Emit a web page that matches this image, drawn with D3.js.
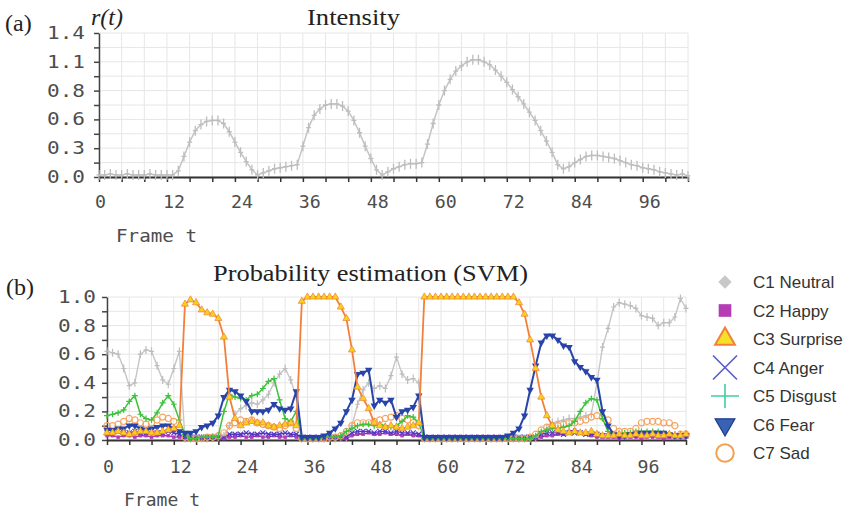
<!DOCTYPE html>
<html>
<head>
<meta charset="utf-8">
<script src="https://cdn.jsdelivr.net/npm/d3@7"></script>
<style>
  body { margin: 0; background: #fff; }
  .mono { font-family: "DejaVu Sans Mono", monospace; font-size: 17px; fill: #4d4d4d; }
  .serif { font-family: "Liberation Serif", serif; fill: #222; }
</style>
</head>
<body>
<script>
// ---- data ----
var frameCount = 105;

// (a) intensity r(t)
var intensity = [
  0.02,0.02,0.03,0.02,0.02,0.03,0.02,0.02,0.02,0.03,0.02,0.02,0.02,0.02,
  0.06,0.2,0.34,0.45,0.51,0.54,0.55,0.55,0.52,0.44,0.34,0.24,0.15,0.07,0.02,
  0.04,0.06,0.08,0.09,0.1,0.11,0.12,
  0.3,0.48,0.6,0.66,0.7,0.71,0.71,0.69,0.64,0.55,0.43,0.3,0.18,0.07,0.02,
  0.05,0.08,0.1,0.12,0.13,0.13,0.14,
  0.32,0.52,0.7,0.84,0.95,1.03,1.08,1.12,1.14,1.14,1.12,1.09,1.04,0.98,0.92,0.85,
  0.78,0.71,0.63,0.55,0.45,0.35,0.24,0.12,0.08,0.1,0.14,0.17,0.2,0.21,0.21,0.2,
  0.19,0.18,0.16,0.14,0.12,0.11,0.09,0.08,0.07,0.05,0.04,0.03,0.02,0.03,0.01
];

// (b) SVM probability per class
var neutral = [
  0.62,0.61,0.6,0.5,0.38,0.4,0.6,0.63,0.62,0.52,0.42,0.39,0.5,0.62,
  0.01,0.01,0.01,0.01,0.01,0.02,0.02,0.03,
  0.1,0.18,0.22,0.24,0.26,0.25,0.28,0.32,0.4,0.46,0.5,0.42,0.3,
  0.01,0.01,0.01,0.01,0.01,0.01,0.01,0.02,0.02,
  0.1,0.25,0.35,0.4,0.36,0.38,0.36,0.45,0.58,0.46,0.42,0.43,0.4,
  0.01,0.01,0.01,0.01,0.01,0.01,0.01,0.01,0.01,0.01,0.01,0.01,0.01,0.01,0.01,0.01,0.01,0.01,0.01,0.01,0.01,
  0.03,0.08,0.12,0.13,0.14,0.15,0.15,0.16,0.17,0.18,0.4,0.65,0.78,0.93,0.96,0.95,
  0.94,0.92,0.87,0.86,0.85,0.8,0.82,0.82,0.86,0.99,0.92
];
var happy = [
  0.03,0.03,0.02,0.03,0.03,0.02,0.03,0.03,0.02,0.03,0.03,0.03,0.02,0.02,
  0.01,0.01,0.01,0.01,0.01,0.01,0.01,0.01,
  0.02,0.02,0.03,0.02,0.02,0.03,0.02,0.02,0.03,0.02,0.02,0.03,0.02,
  0.01,0.01,0.01,0.01,0.01,0.01,0.01,0.01,0.01,
  0.03,0.04,0.04,0.05,0.04,0.04,0.05,0.04,0.04,0.03,0.04,0.03,0.03,
  0.01,0.01,0.01,0.01,0.01,0.01,0.01,0.01,0.01,0.01,0.01,0.01,0.01,0.01,0.01,0.01,0.01,0.01,0.01,0.01,0.01,
  0.02,0.03,0.03,0.04,0.04,0.06,0.07,0.05,0.04,0.03,0.02,0.02,0.02,0.02,0.01,0.02,
  0.02,0.02,0.01,0.02,0.02,0.02,0.01,0.02,0.02,0.02,0.02
];
var surprise = [
  0.05,0.05,0.06,0.05,0.04,0.05,0.06,0.06,0.05,0.05,0.06,0.07,0.08,0.1,
  0.95,0.98,0.96,0.91,0.89,0.88,0.85,0.72,0.3,0.15,
  0.1,0.12,0.13,0.12,0.12,0.1,0.09,0.1,0.11,0.12,0.1,
  0.97,1.0,1.0,1.0,1.0,1.0,1.0,
  0.93,0.85,0.63,0.37,0.29,0.22,0.12,
  0.1,0.09,0.1,0.09,0.08,0.09,0.1,0.12,
  1.0,1.0,1.0,1.0,1.0,1.0,1.0,1.0,1.0,1.0,1.0,1.0,1.0,1.0,1.0,1.0,1.0,
  0.96,0.88,0.7,0.5,0.3,0.17,0.1,0.07,
  0.06,0.05,0.06,0.05,0.05,0.06,0.04,0.03,0.03,0.03,0.04,0.03,0.03,0.04,0.03,0.03,
  0.04,0.03,0.03,0.04,0.03,0.03,0.04
];
var anger = [
  0.05,0.05,0.06,0.05,0.05,0.06,0.05,0.05,0.06,0.05,0.05,0.06,0.05,0.04,
  0.02,0.02,0.02,0.02,0.02,0.02,0.02,0.02,
  0.04,0.04,0.04,0.05,0.04,0.04,0.05,0.04,0.04,0.04,0.05,0.04,0.04,
  0.02,0.02,0.02,0.02,0.02,0.02,0.02,0.02,0.02,
  0.05,0.06,0.06,0.06,0.05,0.06,0.06,0.05,0.06,0.05,0.05,0.05,0.04,
  0.02,0.02,0.02,0.02,0.02,0.02,0.02,0.02,0.02,0.02,0.02,0.02,0.02,0.02,0.02,0.02,0.02,0.02,0.02,0.02,0.02,
  0.04,0.05,0.05,0.05,0.04,0.05,0.05,0.05,0.04,0.04,0.04,0.03,0.03,0.03,0.03,0.03,
  0.03,0.04,0.04,0.04,0.04,0.03,0.03,0.03,0.03,0.03,0.03
];
var disgust = [
  0.17,0.18,0.19,0.21,0.27,0.31,0.18,0.15,0.14,0.19,0.26,0.31,0.25,0.14,0.04,
  0.01,0.01,0.02,0.02,0.02,0.03,
  0.2,0.32,0.3,0.29,0.28,0.31,0.32,0.36,0.41,0.43,0.28,0.15,0.13,0.2,
  0.01,0.01,0.01,0.01,0.02,0.02,0.02,
  0.03,0.06,0.08,0.1,0.11,0.11,0.1,0.11,0.1,0.09,0.1,0.13,0.17,0.16,0.12,
  0.01,0.01,0.01,0.01,0.01,0.01,0.01,0.01,0.01,0.01,0.01,0.01,0.01,0.01,0.01,0.01,0.01,0.01,0.01,0.01,
  0.03,0.06,0.07,0.08,0.08,0.09,0.1,0.13,0.2,0.26,0.29,0.28,0.15,0.06,
  0.04,0.04,0.05,0.05,0.06,0.06,0.06,0.06,0.06,0.05,0.04,0.04,0.04,0.04
];
var fear = [
  0.07,0.07,0.08,0.08,0.1,0.1,0.08,0.07,0.08,0.09,0.1,0.1,0.08,
  0.06,0.05,0.05,0.06,0.09,0.1,0.12,0.17,0.3,0.35,0.34,0.31,0.27,0.2,0.2,0.2,0.21,
  0.25,0.22,0.21,0.22,0.34,
  0.02,0.02,0.02,0.02,0.03,0.05,0.08,
  0.12,0.2,0.28,0.46,0.47,0.49,0.24,0.28,0.26,0.28,0.16,0.2,0.21,0.23,0.31,
  0.02,0.02,0.02,0.02,0.02,0.02,0.02,0.02,0.02,0.02,0.02,0.02,0.02,0.02,0.02,
  0.03,0.05,0.08,0.17,0.35,0.52,0.68,0.73,0.73,0.7,0.66,0.65,0.55,0.51,0.48,0.44,
  0.42,0.2,0.1,0.04,
  0.03,0.03,0.04,0.04,0.05,0.05,0.05,0.05,0.05,0.04,0.03,0.03,0.03
];
var sad = [
  0.1,0.1,0.11,0.13,0.15,0.14,0.12,0.11,0.12,0.14,0.16,0.15,0.13,0.08,
  0.02,0.01,0.01,0.01,0.02,0.02,0.03,0.05,
  0.1,0.12,0.14,0.13,0.14,0.12,0.11,0.1,0.09,0.08,0.1,0.12,0.08,
  0.01,0.01,0.01,0.01,0.01,0.02,0.02,0.03,0.06,
  0.1,0.12,0.12,0.12,0.13,0.14,0.15,0.16,0.17,0.15,0.14,0.12,0.1,
  0.01,0.01,0.01,0.01,0.01,0.01,0.01,0.01,0.01,0.01,0.01,0.01,0.01,0.01,0.01,0.01,0.01,0.01,0.01,
  0.02,0.04,0.07,0.09,0.1,0.1,0.11,0.12,0.12,0.13,0.14,0.16,0.17,0.16,0.14,
  0.08,0.06,0.06,0.06,0.08,0.12,0.13,0.13,0.13,0.12,0.12,0.1,0.04,0.04
];

var classNames = ["C1 Neutral", "C2 Happy", "C3 Surprise", "C4 Anger", "C5 Disgust", "C6 Fear", "C7 Sad"];

// tick labels
var frameLabels = [0, 12, 24, 36, 48, 60, 72, 84, 96];
var topYLabels = ["0.0", "0.3", "0.6", "0.8", "1.1", "1.4"];
var botYLabels = ["0.0", "0.2", "0.4", "0.6", "0.8", "1.0"];

// ---- drawing ----
var width = 850, height = 510;

var svg = d3.select("body").append("svg")
    .attr("width", width)
    .attr("height", height);

// marker shapes
var plusTall = function(h, w) { return "M0," + (-h) + "V" + h + "M" + (-w) + ",0H" + w; };

function drawPanel(opt) {
  var x = d3.scaleLinear().domain([0, 104]).range([opt.x0, opt.x1]);
  var y = d3.scaleLinear().domain([0, opt.ymax]).range([opt.yb, opt.yt]);
  var g = svg.append("g");

  // grid
  g.append("g").selectAll("line")
      .data(d3.range(0, 105, 4))
      .enter().append("line")
      .attr("x1", function(d) { return x(d); })
      .attr("x2", function(d) { return x(d); })
      .attr("y1", opt.yt).attr("y2", opt.yb)
      .attr("stroke", "#e6e6e6");
  g.append("g").selectAll("line")
      .data(opt.gridY)
      .enter().append("line")
      .attr("x1", opt.x0).attr("x2", opt.x1)
      .attr("y1", function(d) { return y(d); })
      .attr("y2", function(d) { return y(d); })
      .attr("stroke", "#e6e6e6");

  // left axis
  var ya = g.append("g")
      .attr("transform", "translate(" + opt.x0 + ",0)")
      .call(d3.axisLeft(y).tickValues(opt.gridY).tickSize(5).tickSizeOuter(0)
        .tickPadding(opt.ypad)
        .tickFormat(function(d, i) { return i % 2 === 0 ? opt.yLabels[i / 2] : ""; }));
  ya.select(".domain").attr("stroke", "#444").attr("stroke-width", 1.5);
  ya.selectAll(".tick line").attr("stroke", "#444").attr("stroke-width", 1.5);
  ya.selectAll("text")
      .attr("class", "mono")
      .attr("font-family", null).attr("font-size", null).attr("fill", null)
      .attr("textLength", function() { return this.textContent.length ? 38 : null; })
      .attr("lengthAdjust", "spacingAndGlyphs");

  // bottom axis
  var xa = g.append("g")
      .attr("transform", "translate(0," + opt.yb + ")")
      .call(d3.axisBottom(x).tickValues(d3.range(0, 105, 4)).tickSize(5).tickSizeOuter(0).tickFormat(""));
  xa.select(".domain").attr("stroke", "#333").attr("stroke-width", 2);
  xa.selectAll(".tick line").attr("stroke", "#333").attr("stroke-width", 1.5);

  g.append("g").selectAll("text")
      .data(frameLabels)
      .enter().append("text")
      .attr("class", "mono")
      .attr("x", function(d) { return x(d) - 4; })
      .attr("y", opt.yb + opt.labelDy)
      .attr("textLength", function(d) { return String(d).length * 11; })
      .attr("lengthAdjust", "spacingAndGlyphs")
      .text(function(d) { return d; });

  g.append("text")
      .attr("class", "mono")
      .attr("x", opt.frameX).attr("y", opt.frameY)
      .attr("textLength", opt.frameW)
      .attr("lengthAdjust", "spacingAndGlyphs")
      .text("Frame t");

  return { x: x, y: y, g: g };
}

// ---- (a) intensity ----
var pa = drawPanel({
  x0: 99, x1: 688, yt: 33, yb: 177, ymax: 1.4,
  gridY: d3.range(11).map(function(i) { return i * 0.14; }),
  yLabels: topYLabels, ypad: 9, labelDy: 31,
  frameX: 116, frameY: 242, frameW: 81
});

var lineA = d3.line()
    .x(function(d, i) { return pa.x(i); })
    .y(function(d) { return pa.y(d); });
pa.g.append("path")
    .datum(intensity)
    .attr("d", lineA)
    .attr("fill", "none")
    .attr("stroke", "#c4c4c4")
    .attr("stroke-width", 1.5);
pa.g.append("g").selectAll("path")
    .data(intensity)
    .enter().append("path")
    .attr("transform", function(d, i) { return "translate(" + pa.x(i) + "," + pa.y(d) + ")"; })
    .attr("d", plusTall(5, 2.5))
    .attr("stroke", "#bdbdbd")
    .attr("stroke-width", 1.3);

svg.append("text").attr("class", "serif").attr("x", 5).attr("y", 31)
    .attr("font-size", 24).text("(a)");
svg.append("text").attr("class", "serif").attr("x", 91).attr("y", 25)
    .attr("font-size", 24).attr("font-style", "italic").text("r(t)");
svg.append("text").attr("class", "serif").attr("x", 307).attr("y", 25)
    .attr("font-size", 23).attr("textLength", 93).attr("lengthAdjust", "spacingAndGlyphs")
    .text("Intensity");

// ---- (b) probability estimation ----
var pb = drawPanel({
  x0: 107, x1: 686, yt: 297, yb: 440, ymax: 1.0,
  gridY: d3.range(11).map(function(i) { return i * 0.1; }),
  yLabels: botYLabels, ypad: 6, labelDy: 33,
  frameX: 124, frameY: 506, frameW: 76
});

svg.append("text").attr("class", "serif").attr("x", 6).attr("y", 295)
    .attr("font-size", 24).text("(b)");
svg.append("text").attr("class", "serif").attr("x", 213).attr("y", 281)
    .attr("font-size", 23).attr("textLength", 315).attr("lengthAdjust", "spacingAndGlyphs")
    .text("Probability estimation (SVM)");

var series = [
  { name: classNames[0], values: neutral, line: "#c6c6c6", lw: 1.4,
    mark: plusTall(4, 2.5), fill: "none", stroke: "#bdbdbd", sw: 1.2 },
  { name: classNames[1], values: happy, line: "#b23cb4", lw: 1.4,
    mark: d3.symbol().type(d3.symbolSquare).size(12)(), fill: "#b23cb4", stroke: "none", sw: 0 },
  { name: classNames[3], values: anger, line: "#5438c4", lw: 1.4,
    mark: "M-2.5,-2.5L2.5,2.5M-2.5,2.5L2.5,-2.5", fill: "none", stroke: "#5438c4", sw: 1.2 },
  { name: classNames[6], values: sad, line: "none", lw: 0,
    mark: d3.symbol().type(d3.symbolCircle).size(30)(), fill: "none", stroke: "#f5a460", sw: 1.2 },
  { name: classNames[4], values: disgust, line: "#3cc23c", lw: 1.5,
    mark: plusTall(3, 3), fill: "none", stroke: "#3cc23c", sw: 1.2 },
  { name: classNames[5], values: fear, line: "#2844a8", lw: 2,
    mark: d3.symbol().type(d3.symbolTriangle).size(24)(), fill: "#2844a8", stroke: "none", sw: 0, rot: 180 },
  { name: classNames[2], values: surprise, line: "#f2803a", lw: 1.8,
    mark: d3.symbol().type(d3.symbolTriangle).size(22)(), fill: "#f6d21a", stroke: "#f2803a", sw: 0.7 }
];

var lineB = d3.line()
    .x(function(d, i) { return pb.x(i); })
    .y(function(d) { return pb.y(d); });

series.forEach(function(s) {
  if (s.line !== "none") {
    pb.g.append("path")
        .datum(s.values)
        .attr("d", lineB)
        .attr("fill", "none")
        .attr("stroke", s.line)
        .attr("stroke-width", s.lw);
  }
  pb.g.append("g").selectAll("path")
      .data(s.values)
      .enter().append("path")
      .attr("transform", function(d, i) {
        return "translate(" + pb.x(i) + "," + pb.y(d) + ")" + (s.rot ? " rotate(" + s.rot + ")" : "");
      })
      .attr("d", s.mark)
      .attr("fill", s.fill)
      .attr("stroke", s.stroke)
      .attr("stroke-width", s.sw);
});

// legend
var legendY = d3.scaleLinear().domain([0, 6]).range([282, 453]);
var legendMarks = [
  { d: d3.symbol().type(d3.symbolSquare).size(90)(), rot: 45, fill: "#c8c8c8", stroke: "none", sw: 0 },
  { d: d3.symbol().type(d3.symbolSquare).size(160)(), fill: "#b43cb4", stroke: "none", sw: 0 },
  { d: d3.symbol().type(d3.symbolTriangle).size(170)(), fill: "#f8e02a", stroke: "#f2803a", sw: 2 },
  { d: "M-12,-12L12,12M-12,12L12,-12", fill: "none", stroke: "#5a5ad0", sw: 1.6 },
  { d: "M-14,0H14M0,-12V12", fill: "none", stroke: "#3ccf9e", sw: 1.6 },
  { d: d3.symbol().type(d3.symbolTriangle).size(170)(), rot: 180, fill: "#3a62b4", stroke: "#1e3c8c", sw: 1.2 },
  { d: d3.symbol().type(d3.symbolCircle).size(240)(), fill: "none", stroke: "#f5a050", sw: 2 }
];

var leg = svg.append("g").selectAll("g")
    .data(classNames)
    .enter().append("g")
    .attr("transform", function(d, i) { return "translate(725," + legendY(i) + ")"; });
leg.append("path")
    .attr("d", function(d, i) { return legendMarks[i].d; })
    .attr("transform", function(d, i) { return legendMarks[i].rot ? "rotate(" + legendMarks[i].rot + ")" : null; })
    .attr("fill", function(d, i) { return legendMarks[i].fill; })
    .attr("stroke", function(d, i) { return legendMarks[i].stroke; })
    .attr("stroke-width", function(d, i) { return legendMarks[i].sw; });
leg.append("text")
    .attr("x", 28)
    .attr("dy", "0.36em")
    .attr("font-family", "Liberation Sans, Arial, sans-serif")
    .attr("font-size", 17)
    .attr("fill", "#333")
    .text(function(d) { return d; });
</script>
</body>
</html>
